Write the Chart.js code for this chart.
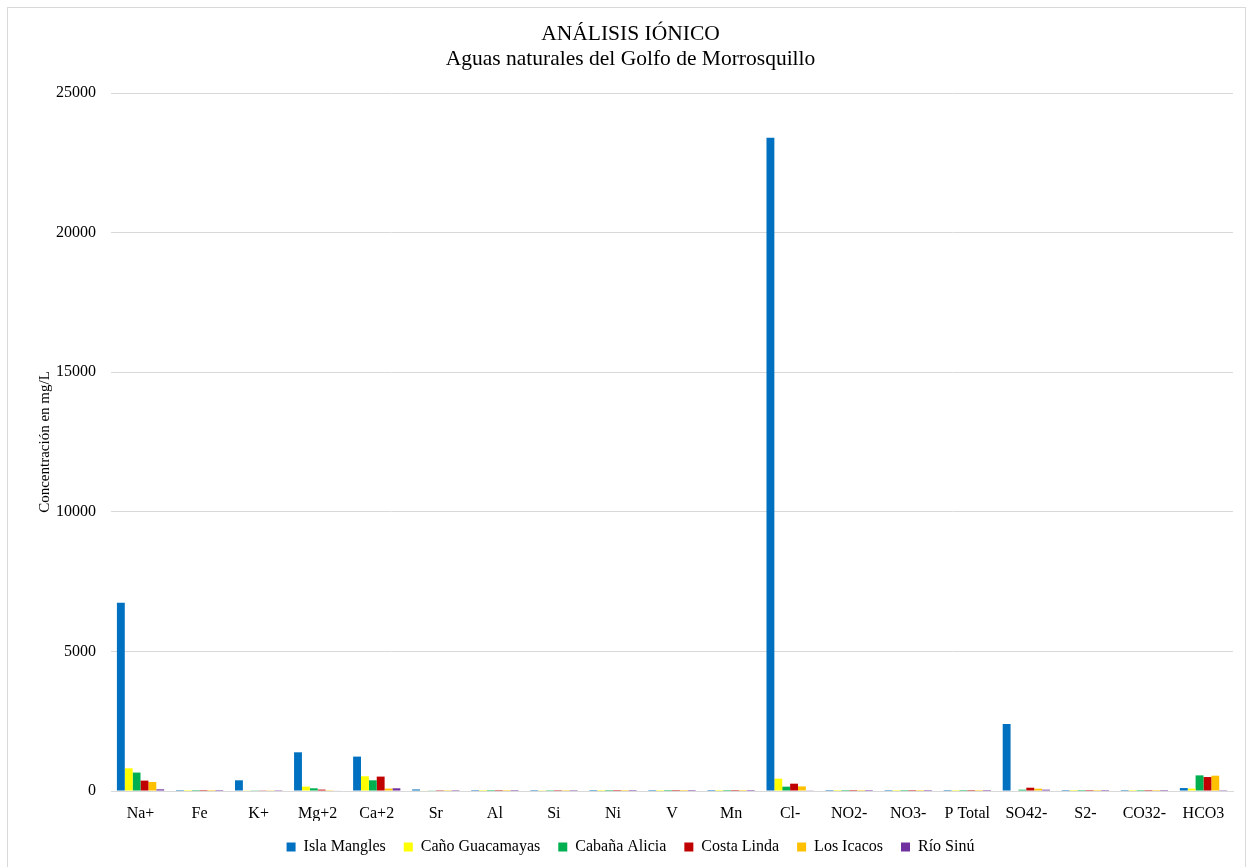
<!DOCTYPE html>
<html>
<head>
<meta charset="utf-8">
<script src="https://cdn.jsdelivr.net/npm/chart.js@4.4.1/dist/chart.umd.min.js"></script>
<style>
  html, body { margin: 0; padding: 0; background: #ffffff; }
  #frame {
    position: absolute; left: 7px; top: 7px; width: 1239px; height: 900px;
    border: 1px solid #d9d9d9; box-sizing: border-box;
  }
  #wrap { position: absolute; left: 0; top: 0; width: 1254px; height: 867px; }
</style>
</head>
<body>
<div id="frame"></div>
<div id="wrap"><canvas id="chart" width="1254" height="867"></canvas></div>
<script>
// Ions measured in each water sample (mg/L)
const categories = ['Na+', 'Fe', 'K+', 'Mg+2', 'Ca+2', 'Sr', 'Al', 'Si', 'Ni', 'V', 'Mn',
  'Cl-', 'NO2-', 'NO3-', 'P Total', 'SO42-', 'S2-', 'CO32-', 'HCO3'];

const islaMangles      = [6740, 2, 383, 1386, 1232, 55, 1, 2, 0.5, 1, 0.5, 23400, 1, 2, 1, 2400, 1, 1, 105];
const canoGuacamayas   = [813, 1, 12, 158, 527, 15, 1, 8, 0.5, 0.5, 0.5, 441, 1, 1, 1, 18, 1, 1, 85];
const cabanaAlicia     = [660, 1, 10, 97, 383, 12, 1, 5, 0.5, 0.5, 0.5, 155, 1, 1, 1, 47, 1, 1, 560];
const costaLinda       = [372, 1, 10, 50, 516, 5, 1, 3, 0.5, 0.5, 0.5, 262, 1, 1, 1, 118, 1, 1, 500];
const losIcacos        = [322, 1, 8, 30, 86, 4, 1, 3, 0.5, 0.5, 0.5, 165, 1, 1, 1, 82, 1, 1, 548];
const rioSinu          = [60, 1, 6, 20, 97, 3, 1, 3, 0.5, 0.5, 0.5, 12, 1, 1, 1, 47, 1, 1, 30];

const seriesNames = ['Isla Mangles', 'Caño Guacamayas', 'Cabaña Alicia', 'Costa Linda', 'Los Icacos', 'Río Sinú'];
const seriesValues = [islaMangles, canoGuacamayas, cabanaAlicia, costaLinda, losIcacos, rioSinu];
const seriesColors = ['#0070C0', '#FFFF00', '#00B050', '#C00000', '#FFC000', '#7030A0'];

const yTicks = [0, 5000, 10000, 15000, 20000, 25000];

const FONT = "'Liberation Serif', 'Times New Roman', serif";

new Chart(document.getElementById('chart'), {
  type: 'bar',
  data: {
    labels: categories,
    datasets: seriesNames.map((name, i) => ({
      label: name,
      data: seriesValues[i],
      backgroundColor: seriesColors[i],
      borderWidth: 0,
      categoryPercentage: 0.8,
      barPercentage: 1.0
    }))
  },
  options: {
    responsive: false,
    animation: false,
    layout: { padding: { left: 28, right: 21, top: 0, bottom: 2 } },
    plugins: {
      title: {
        display: true,
        text: ['ANÁLISIS IÓNICO', 'Aguas naturales del Golfo de Morrosquillo'],
        color: '#000000',
        font: { family: FONT, size: 21.5, weight: 'normal', lineHeight: 1.163 },
        padding: { top: 21.5, bottom: 21.5 }
      },
      legend: {
        display: true,
        position: 'bottom',
        labels: {
          color: '#000000',
          font: { family: FONT, size: 16 },
          boxWidth: 9,
          boxHeight: 9,
          padding: 18
        }
      },
      tooltip: { enabled: false }
    },
    scales: {
      x: {
        grid: { display: false, drawTicks: false },
        border: { display: true, color: '#d9d9d9', width: 1 },
        ticks: {
          color: '#000000',
          font: { family: FONT, size: 16 },
          padding: 13,
          maxRotation: 0,
          autoSkip: false
        },
        afterFit: (scale) => { scale.height = 30; }
      },
      y: {
        min: 0,
        max: 25000,
        afterBuildTicks: (scale) => { scale.ticks = yTicks.map(v => ({ value: v })); },
        grid: { color: '#d9d9d9', drawTicks: false, lineWidth: 1 },
        border: { display: false },
        ticks: {
          color: '#000000',
          font: { family: FONT, size: 16 },
          padding: 15,
          callback: (v) => String(v)
        },
        title: {
          display: true,
          text: 'Concentración en mg/L',
          color: '#000000',
          font: { family: FONT, size: 15 },
          padding: { top: 8, bottom: 0 }
        },
        afterFit: (scale) => { scale.width = 83; }
      }
    }
  }
});
</script>
</body>
</html>
